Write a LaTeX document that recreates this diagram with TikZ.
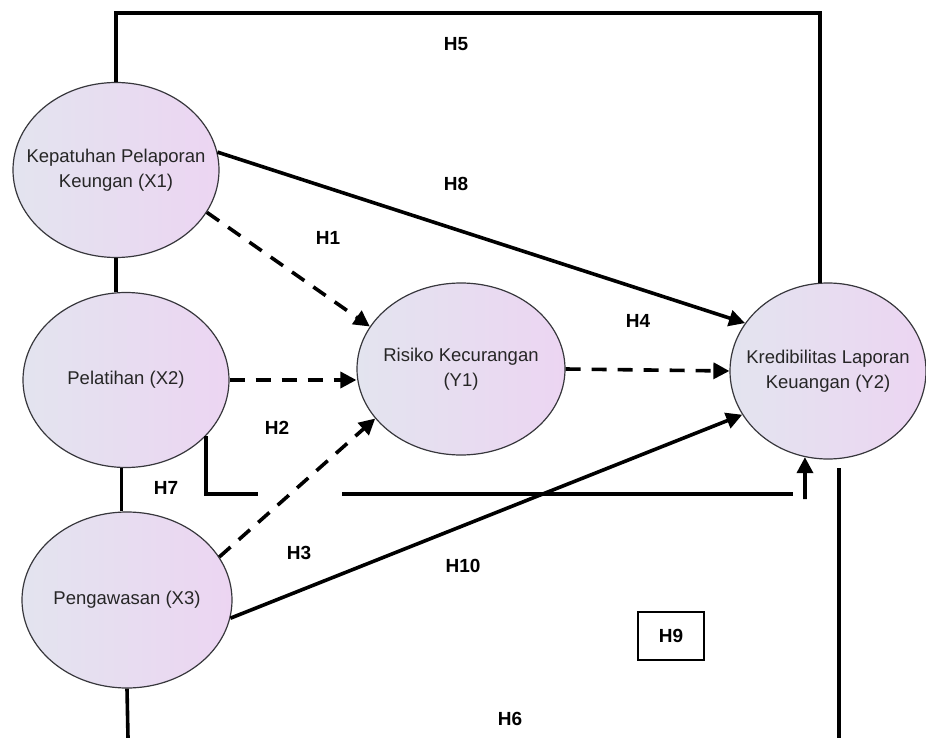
\documentclass[tikz,border=0pt]{standalone}
\usepackage{fontspec}
\setmainfont{Liberation Sans}
\usetikzlibrary{shapes.geometric, arrows.meta}
\definecolor{latentL}{RGB}{227,228,239}
\definecolor{latentR}{RGB}{236,213,242}
\definecolor{latentB}{RGB}{55,55,60}

\begin{document}
\begin{tikzpicture}[x=1pt, y=-1pt,
  latent/.style={ellipse, draw=latentB, line width=1.2pt, inner sep=0pt,
    left color=latentL, right color=latentR},
  txt/.style={align=center, font=\fontsize{18.5}{25}\selectfont, text=black!85},
  hyp/.style={font=\fontsize{19}{22}\selectfont\bfseries},
  conn/.style={line width=3.6pt},
  arr/.style={conn, -{Triangle[length=16pt, width=16pt]}},
  darr/.style={arr, dash pattern=on 15pt off 11pt}]
  \useasboundingbox (0,0) rectangle (926,738);

  \node[latent, minimum width=206pt, minimum height=175pt,
        label={[txt]center:Kepatuhan Pelaporan\\Keungan (X1)}] (X1) at (116,170) {};
  \node[latent, minimum width=206pt, minimum height=175pt,
        label={[txt]center:Pelatihan (X2)}] (X2) at (126,380) {};
  \node[latent, minimum width=210pt, minimum height=176pt,
        label={[txt]center:Pengawasan (X3)}] (X3) at (127,600) {};
  \node[latent, minimum width=208pt, minimum height=172pt,
        label={[txt]center:Risiko Kecurangan\\(Y1)}] (Y1) at (461,369) {};
  \node[latent, minimum width=196pt, minimum height=176pt,
        label={[txt]center:Kredibilitas Laporan\\Keuangan (Y2)}] (Y2) at (828,371) {};

  \coordinate (h7a) at (258,494);
  \coordinate (h7b) at (342,494);
  \coordinate (h7c) at (793,494);
  \coordinate (h7d) at (805,499);
  \coordinate (h6l) at (128,738);
  \coordinate (h6r) at (839,738);

  % outer links
  \draw[conn] (X1.north) -- ++(0,-69) -| (Y2.95);
  \draw[conn] (X1.south) -- (X2.north -| X1.south);
  \draw[conn] (X2.-93) -- (X3.north -| X2.-93);
  \draw[conn] (X3.south) -- (h6l);
  \draw[conn, shorten >=8pt] (h6r) -- (h6r |- Y2.south);
  \draw[conn] (X2.-35) |- (h7a);
  \draw[conn] (h7b) -- (h7c);
  \draw[arr] (h7d) -- (Y2.-105);

  % paths
  \draw[arr] (X1.10) -- (Y2.150);
  \draw[darr] (X1.-25) -- (Y1.155);
  \draw[darr] (X2.east) -- (Y1.west |- X2.east);
  \draw[darr] (X3.25) -- (Y1.210);
  \draw[darr] (Y1.east) -- (Y2.west);
  \draw[arr] (X3.-10) -- (Y2.207);

  \node[hyp] (H5) at (456,44) {H5};
  \node[hyp] (H8) at (456,184) {H8};
  \node[hyp] (H1) at (328,238) {H1};
  \node[hyp] (H4) at (638,321) {H4};
  \node[hyp] (H2) at (277,428) {H2};
  \node[hyp] (H7) at (166,488) {H7};
  \node[hyp] (H3) at (299,553) {H3};
  \node[hyp] (H10) at (463,566) {H10};
  \node[hyp, draw, line width=1.3pt, minimum width=66pt, minimum height=48pt] (H9) at (671,636) {H9};
  \node[hyp] (H6) at (510,719) {H6};
\end{tikzpicture}
\end{document}
